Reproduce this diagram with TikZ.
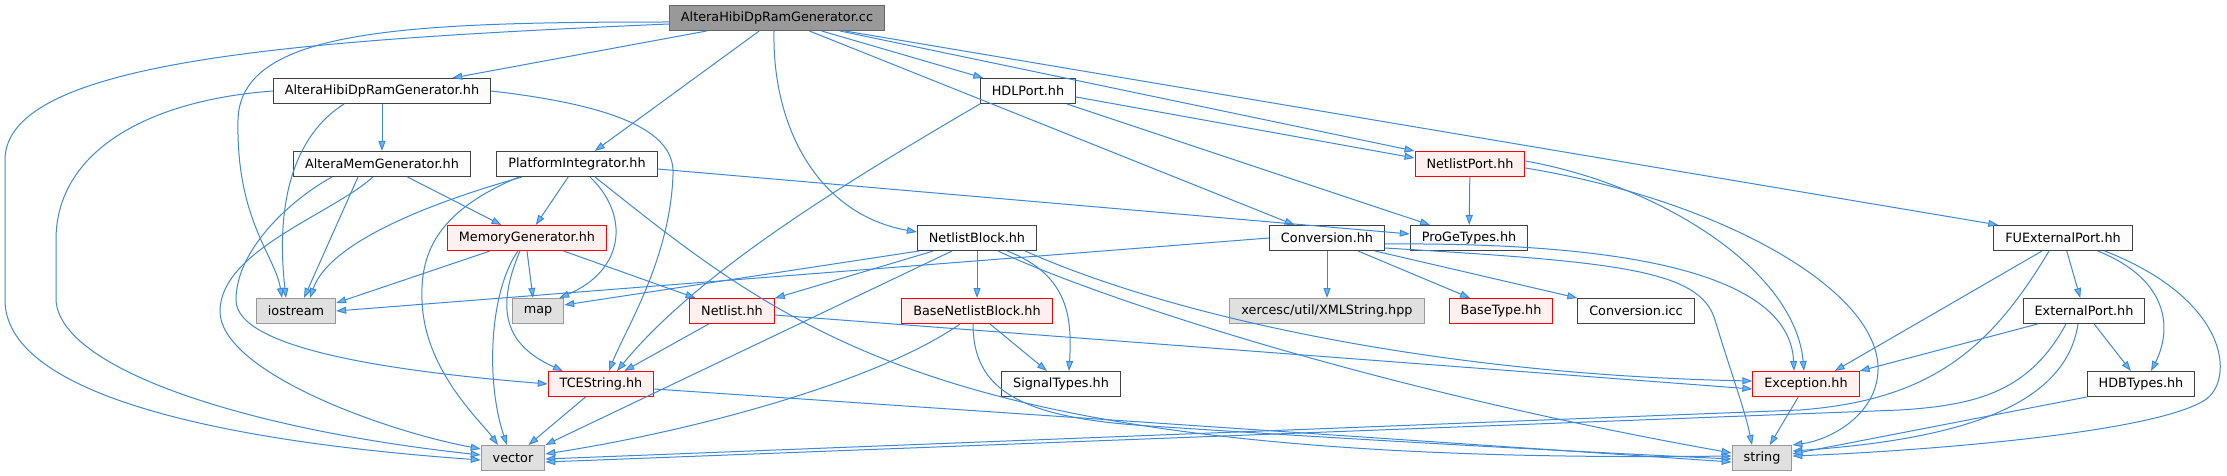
\documentclass[tikz,border=0pt]{standalone}
\usepackage{fontspec}
\setmainfont{DejaVu Sans}
\usetikzlibrary{arrows.meta,calc}

\definecolor{edgeline}{HTML}{3F88D4}
\definecolor{edgefill}{HTML}{63B8FF}
\definecolor{rootfill}{HTML}{999999}
\definecolor{sysfill}{HTML}{E0E0E0}
\definecolor{redfill}{HTML}{FFF0F0}
\definecolor{filefill}{HTML}{FBFCFB}

\tikzset{
  file/.style={draw=black!75, fill=filefill, line width=1pt, rectangle,
    minimum height=25pt, inner xsep=11.5pt, inner ysep=0pt,
    font=\fontsize{12.8}{15}\selectfont},
  rootfile/.style={file, fill=rootfill, draw=black!60},
  sysfile/.style={file, fill=sysfill, draw=black!40},
  redfile/.style={file, fill=redfill, draw=red},
  dep/.style={draw=edgeline, line width=1pt,
    -{Triangle[length=10pt,width=7pt,fill=edgefill]}},
}

\begin{document}
\begin{tikzpicture}[x=1pt,y=-1pt]
\useasboundingbox (0,0) rectangle (2227,476);

\node[rootfile] (cc) at (777,18) {AlteraHibiDpRamGenerator.cc};
\node[file] (ahh) at (382,91) {AlteraHibiDpRamGenerator.hh};
\node[file] (hdl) at (1028,91) {HDLPort.hh};
\node[file] (amg) at (382,164) {AlteraMemGenerator.hh};
\node[file] (pint) at (577,164) {PlatformIntegrator.hh};
\node[redfile] (nport) at (1470,164) {NetlistPort.hh};
\node[redfile] (memgen) at (527,238) {MemoryGenerator.hh};
\node[file] (nblock) at (977,238) {NetlistBlock.hh};
\node[file] (conv) at (1327,238) {Conversion.hh};
\node[file] (proge) at (1469,238) {ProGeTypes.hh};
\node[file] (fuport) at (2063,238) {FUExternalPort.hh};
\node[sysfile] (iostream) at (296,311) {iostream};
\node[sysfile] (map) at (538,311) {map};
\node[redfile] (netlist) at (732,311) {Netlist.hh};
\node[redfile] (bnblock) at (977,311) {BaseNetlistBlock.hh};
\node[sysfile] (xmlstr) at (1327,311) {xercesc/util/XMLString.hpp};
\node[redfile] (basetype) at (1501,311) {BaseType.hh};
\node[file] (convicc) at (1636,311) {Conversion.icc};
\node[file] (extport) at (2084,311) {ExternalPort.hh};
\node[redfile] (tcestr) at (601,384) {TCEString.hh};
\node[file] (sigtypes) at (1061,384) {SignalTypes.hh};
\node[redfile] (except) at (1806,384) {Exception.hh};
\node[file] (hdbtypes) at (2141,384) {HDBTypes.hh};
\node[sysfile] (vector) at (513,458) {vector};
\node[sysfile] (string) at (1762,458) {string};

\draw[dep] (cc) -- (ahh);
\draw[dep] (cc) -- (hdl);
\draw[dep] (cc) -- (pint);
\draw[dep] (cc) -- (conv);
\draw[dep] ($(cc.south east)+(-45,0)$) -- (nport.north west);
\draw[dep] ($(cc.south east)+(-40,0)$) -- ($(fuport.north west)+(5,0)$);
\draw[dep] ($(cc.south)+(-3,0)$) .. controls (772,130) and (820,215) .. ($(nblock.west)+(0,-6)$);
\draw[dep] ($(cc.west)+(0,4)$) .. controls (400,22) and (240,30) .. (238,120) .. controls (236,220) and (275,255) .. ($(iostream.north)+(-14,0)$);
\draw[dep] ($(cc.west)+(0,6)$) .. controls (300,40) and (5,60) .. (5,160) -- (5,300) .. controls (5,390) and (200,440) .. ($(vector.west)+(0,2)$);

\draw[dep] (ahh) -- (amg);
\draw[dep] ($(ahh.south)+(-38,0)$) .. controls (295,135) and (275,200) .. ($(iostream.north)+(-10,0)$);
\draw[dep] (ahh.west) .. controls (150,100) and (56,150) .. (56,240) -- (56,300) .. controls (60,370) and (250,430) .. ($(vector.west)+(0,-3)$);
\draw[dep] (ahh.east) .. controls (640,108) and (675,140) .. (673,175) .. controls (670,260) and (625,330) .. ($(tcestr.north)+(8,0)$);

\draw[dep] (amg) -- (memgen);
\draw[dep] ($(amg.south)+(-24,0)$) -- ($(iostream.north)+(8,0)$);
\draw[dep] ($(amg.south)+(-50,0)$) .. controls (290,200) and (236,250) .. (236,300) .. controls (236,350) and (400,372) .. (tcestr.west);
\draw[dep] ($(amg.south)+(-9,0)$) .. controls (330,215) and (222,250) .. (220,310) .. controls (218,370) and (380,430) .. ($(vector.north west)+(0,4)$);

\draw[dep] (pint) -- (memgen);
\draw[dep] ($(pint.east)+(0,5)$) -- ($(proge.west)+(0,-4)$);
\draw[dep] ($(pint.south)+(-55,0)$) .. controls (440,200) and (330,240) .. ($(iostream.north)+(14,0)$);
\draw[dep] ($(pint.south)+(-58,0)$) .. controls (440,210) and (420,250) .. (422,300) .. controls (424,370) and (480,420) .. ($(vector.north)+(-15,0)$);
\draw[dep] ($(pint.south)+(13,0)$) .. controls (630,215) and (625,270) .. ($(map.north east)+(-5,0)$);
\draw[dep] ($(pint.south)+(18,0)$) .. controls (800,340) and (950,465) .. ($(string.west)+(0,-2)$);

\draw[dep] ($(memgen.south)+(-37,0)$) -- ($(iostream.east)+(0,-8)$);
\draw[dep] (memgen.south) -- ($(map.north)+(-5,0)$);
\draw[dep] (memgen) -- (netlist);
\draw[dep] ($(memgen.south)+(-9,0)$) .. controls (490,290) and (485,380) .. ($(vector.north)+(-6,0)$);
\draw[dep] ($(memgen.south)+(-7,0)$) .. controls (495,310) and (505,345) .. ($(tcestr.north)+(-38,0)$);

\draw[dep] ($(hdl.east)+(0,6)$) -- ($(nport.west)+(0,-6)$);
\draw[dep] (hdl) -- (proge);
\draw[dep] ($(hdl.south west)+(0,0)$) .. controls (850,180) and (700,270) .. ($(tcestr.north)+(16,0)$);

\draw[dep] (nport) -- (proge);
\draw[dep] ($(nport.east)+(0,-3)$) .. controls (1660,185) and (1795,270) .. ($(except.north)+(-2,0)$);
\draw[dep] ($(nport.east)+(0,4)$) .. controls (1720,200) and (1880,290) .. (1878,370) .. controls (1877,415) and (1830,440) .. (string.north east);

\draw[dep] (conv) -- (xmlstr);
\draw[dep] (conv) -- (basetype);
\draw[dep] ($(conv.south east)+(-10,0)$) -- (convicc.north west);
\draw[dep] (conv.west) -- (iostream.east);
\draw[dep] ($(conv.east)+(0,6)$) .. controls (1650,242) and (1790,280) .. ($(except.north)+(-12,0)$);
\draw[dep] ($(conv.east)+(0,10)$) .. controls (1620,262) and (1700,270) .. (1715,320) .. controls (1730,370) and (1745,410) .. ($(string.north)+(-10,0)$);

\draw[dep] ($(nblock.south west)+(2,0)$) -- ($(map.east)+(0,-6)$);
\draw[dep] (nblock) -- (netlist);
\draw[dep] (nblock) -- (bnblock);
\draw[dep] ($(nblock.south)+(30,0)$) .. controls (1070,275) and (1072,320) .. ($(sigtypes.north)+(8,0)$);
\draw[dep] ($(nblock.south)+(-25,0)$) -- (vector.north east);
\draw[dep] ($(nblock.south)+(21,0)$) .. controls (1080,290) and (1350,385) .. ($(string.west)+(0,-5)$);
\draw[dep] ($(nblock.south east)+(-12,0)$) .. controls (1180,320) and (1450,375) .. ($(except.west)+(0,-3)$);

\draw[dep] (netlist) -- (tcestr);
\draw[dep] ($(netlist.east)+(0,4)$) -- ($(except.west)+(0,5)$);

\draw[dep] ($(bnblock.south)+(13,0)$) -- ($(sigtypes.north)+(-14,0)$);
\draw[dep] ($(bnblock.south)+(-17,0)$) .. controls (880,380) and (700,430) .. ($(vector.east)+(0,-4)$);
\draw[dep] ($(bnblock.south)+(-4,0)$) .. controls (973,390) and (1020,418) .. (1150,426) .. controls (1300,436) and (1500,448) .. ($(string.west)+(0,1)$);

\draw[dep] (tcestr) -- (vector);
\draw[dep] ($(tcestr.east)+(0,5)$) -- ($(string.west)+(0,4)$);

\draw[dep] (except) -- (string);

\draw[dep] (fuport) -- (extport);
\draw[dep] ($(fuport.south)+(-21,0)$) -- ($(except.north east)+(-25,0)$);
\draw[dep] ($(fuport.south east)+(-35,0)$) .. controls (2170,280) and (2172,330) .. ($(hdbtypes.north)+(10,0)$);
\draw[dep] ($(fuport.south east)+(-28,0)$) .. controls (2230,300) and (2235,380) .. (2205,400) .. controls (2150,435) and (1900,452) .. ($(string.east)+(0,-2)$);
\draw[dep] ($(fuport.south)+(-14,0)$) .. controls (1990,350) and (1930,400) .. (1800,410) -- ($(vector.east)+(0,1)$);

\draw[dep] (extport) -- (hdbtypes);
\draw[dep] ($(extport.south west)+(15,0)$) -- (except.north east);
\draw[dep] ($(extport.south)+(-6,0)$) .. controls (2065,410) and (1950,440) .. ($(string.east)+(0,-7)$);
\draw[dep] ($(extport.south)+(-18,0)$) .. controls (2030,390) and (1980,405) .. (1900,410) -- ($(vector.east)+(0,4)$);

\draw[dep] (hdbtypes.south west) -- ($(string.east)+(0,-4)$);
\end{tikzpicture}
\end{document}
